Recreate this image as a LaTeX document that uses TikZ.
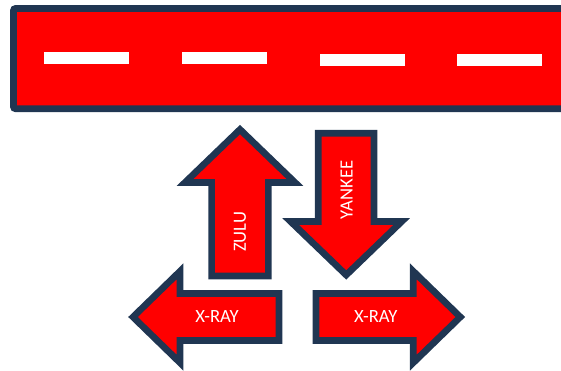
\documentclass[tikz,border=0pt]{standalone}
\usepackage{fontspec}
\setmainfont{Carlito}
\usepackage{xcolor}
\usepackage{tikz}
\definecolor{roadred}{RGB}{255,0,0}
\definecolor{edgeblue}{RGB}{32,54,82}
\tikzset{
  road/.style={draw=edgeblue, fill=roadred, line width=5pt, rounded corners=1.5pt},
  lane/.style={fill=white},
  bigarrow/.style={draw=edgeblue, fill=roadred, line width=5pt, line join=miter},
  lbl/.style={text=white, inner sep=0pt}
}

\begin{document}
\begin{tikzpicture}[x=0.75pt,y=-0.75pt,every node/.append style={font=\fontsize{14}{16}\selectfont}]
  \useasboundingbox (0,0) rectangle (561,371);
  \clip (0,0) rectangle (561,371);
  % road with lane marks
  \draw[road] (13.5,8.5) rectangle (620,108.7);
  \foreach \xa/\ya in {44/52, 182/52, 320/54, 457/54}
    \fill[lane] (\xa,\ya) rectangle ++(85,12);
  % up and down
  \draw[bigarrow] (211.6,276) -- (211.6,182.5) -- (185,182.5) -- (240,129.5)
    -- (295,182.5) -- (268.4,182.5) -- (268.4,276) -- cycle;
  \draw[bigarrow] (318.3,133.3) -- (374,133.3) -- (374,221.5) -- (401.7,221.5)
    -- (346.2,275) -- (290.6,221.5) -- (318.3,221.5) -- cycle;
  % left and right
  \draw[bigarrow] (279,293.5) -- (180,293.5) -- (180,271.3) -- (133,317)
    -- (180,362.7) -- (180,340.5) -- (279,340.5) -- cycle;
  \draw[bigarrow] (316,293.5) -- (413.3,293.5) -- (413.3,271.3) -- (460.3,317)
    -- (413.3,362.7) -- (413.3,340.5) -- (316,340.5) -- cycle;
  \node[lbl, rotate=90] (zulu) at (240,231.7) {ZULU};
  \node[lbl, rotate=90] (yankee) at (346.7,190) {YANKEE};
  \node[lbl] (xrayl) at (217,316.7) {X-RAY};
  \node[lbl] (xrayr) at (375.8,316.7) {X-RAY};
\end{tikzpicture}
\end{document}
